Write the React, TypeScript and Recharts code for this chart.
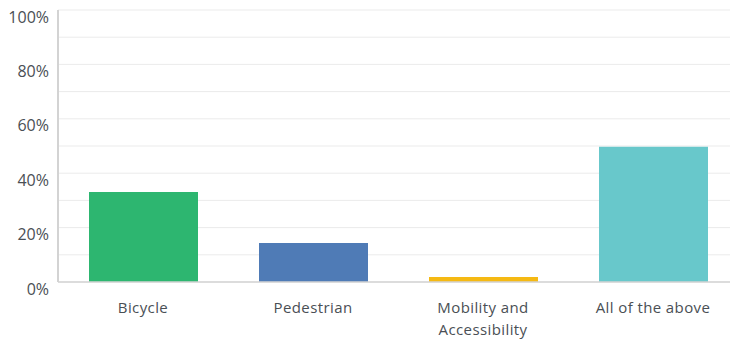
import React from 'react';
import { BarChart, Bar, XAxis, YAxis, CartesianGrid, Cell } from 'recharts';

const categories = ['Bicycle', 'Pedestrian', 'Mobility and Accessibility', 'All of the above'];
const categoryLines = [['Bicycle'], ['Pedestrian'], ['Mobility and', 'Accessibility'], ['All of the above']];
const shares = [33.1, 14.3, 1.8, 49.7];
const barColors = ['#2db670', '#4f7bb6', '#f5b913', '#68c8cb'];
const yTicks = [0, 10, 20, 30, 40, 50, 60, 70, 80, 90, 100];

const data = categories.map((name, i) => ({ name, value: shares[i] }));

const FONT = '"Open Sans", "Noto Sans", sans-serif';

const CategoryTick = (props: any) => {
  const { x, y, index } = props;
  const lines = categoryLines[index] || [];
  return (
    <g transform={`translate(${x},${y})`}>
      {lines.map((line, i) => (
        <text
          key={i}
          x={0}
          y={18 + i * 22}
          dy={5}
          textAnchor="middle"
          fill="#4a4f55"
          fontSize={15}
          letterSpacing={0.4}
          fontFamily={FONT}
        >
          {line}
        </text>
      ))}
    </g>
  );
};

const App: React.FC = () => {
  return (
    <div style={{ position: 'absolute', left: 0, top: 0, width: 730, height: 344, overflow: 'hidden', background: '#fff' }}>
      <BarChart width={738} height={344} data={data} margin={{ top: 10, right: 0, left: 0, bottom: 0 }}>
        <CartesianGrid vertical={false} stroke="#ebebeb" />
        <XAxis
          dataKey="name"
          height={62}
          tick={<CategoryTick />}
          tickLine={false}
          axisLine={{ stroke: '#d3d3d3', strokeWidth: 1.5 }}
          interval={0}
        />
        <YAxis
          width={58}
          domain={[0, 100]}
          ticks={yTicks}
          interval={0}
          tickFormatter={(v: number) => (v % 20 === 0 ? `${v}%` : '')}
          tickLine={false}
          axisLine={{ stroke: '#d3d3d3', strokeWidth: 2 }}
          tickMargin={3}
          tick={{ fill: '#4a4f55', fontSize: 16, fontFamily: FONT, dy: 7 }}
        />
        <Bar dataKey="value" barSize={109} isAnimationActive={false}>
          {data.map((entry, i) => (
            <Cell key={`cell-${i}`} fill={barColors[i]} />
          ))}
        </Bar>
      </BarChart>
    </div>
  );
};

export default App;
